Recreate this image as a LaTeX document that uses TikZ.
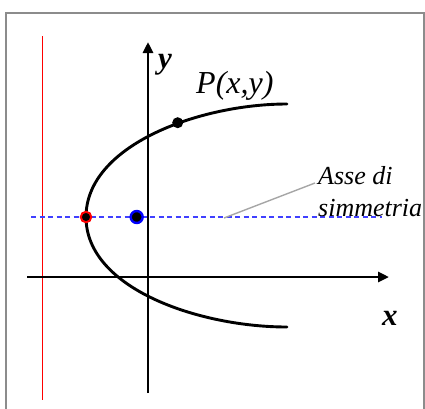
\documentclass[tikz,border=0pt]{standalone}
\usepackage{fontspec}
\setmainfont{Liberation Serif}
\usetikzlibrary{arrows.meta}
\begin{document}
\begin{tikzpicture}[x=1pt,y=-1pt,
  axisline/.style={line width=2.9pt,-{Triangle[length=11pt,width=10pt]}},
  curveline/.style={line width=2.9pt,line cap=round},
  dotpt/.style={circle,inner sep=0pt,fill=black},
  lbl/.style={font=\itshape\fontsize{32}{38}\selectfont},
  axlbl/.style={font=\bfseries\itshape\fontsize{31}{36}\selectfont},
  small/.style={font=\itshape\fontsize{26}{32}\selectfont,inner sep=0pt}]
\useasboundingbox (0,0) rectangle (425,408);
\begin{scope}
\clip (0,0) rectangle (425,408);
\draw[gray!90,line width=2pt] (6,13) rectangle (424,430);
\end{scope}
% directrix
\coordinate (d1) at (42.7,36);
\coordinate (d2) at (42.7,400);
\draw[red,line width=1.1pt] (d1) -- (d2);
% axis of symmetry
\coordinate (s1) at (31,217);
\coordinate (s2) at (382,217);
\draw[blue!75,line width=1.5pt,dash pattern=on 5pt off 3.5pt] (s1) -- (s2);
% axes
\coordinate (xs) at (27,277);
\coordinate (xe) at (389,277);
\coordinate (ys) at (148,393);
\coordinate (ye) at (148,42);
\draw[axisline] (xs) -- (xe);
\draw[axisline] (ys) -- (ye);
% parabola
\coordinate (pt) at (287,104);
\coordinate (pv) at (86,217);
\coordinate (pb) at (287,327);
\draw[curveline] (pt) .. controls (200,104) and (86,145) .. (pv)
  .. controls (86,289) and (200,327) .. (pb);
% points
\node[dotpt,draw=red,line width=2pt,minimum size=10.5pt] (V) at (pv) {};
\node[dotpt,draw=blue,line width=2.4pt,minimum size=12pt] (F) at (136.7,217) {};
\node[dotpt,minimum size=11pt] (P) at (177.7,122.7) {};
% labels
\node[lbl,anchor=base west,inner sep=0pt] (Pl) at (196,93) {P(x,y)};
\node[axlbl,anchor=base,inner sep=0pt] (yl) at (165,68) {y};
\node[axlbl,anchor=base west,inner sep=0pt] (xl) at (382,325) {x};
\node[small,anchor=base west] (a1) at (318,184) {Asse di};
\node[small,anchor=base west] (a2) at (318,216) {simmetria};
% leader
\coordinate (l1) at (224,218);
\coordinate (l2) at (315,183);
\draw[gray!70,line width=1.4pt] (l1) -- (l2);
\end{tikzpicture}
\end{document}
